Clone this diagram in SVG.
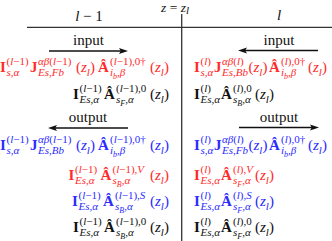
<svg xmlns="http://www.w3.org/2000/svg" width="332" height="241" viewBox="0 0 332 241" font-family="'Liberation Serif', 'Times New Roman', serif">
<style>
text{font-family:"Liberation Serif","Times New Roman","DejaVu Serif",serif;font-size:15px;fill:#111}
.b{font-weight:bold}
.i{font-style:italic}
.s{font-size:11px}
.ss{font-size:8px}
.hd{font-size:13.5px}
.red text{fill:#ff2b2b}
.blue text{fill:#2b2bff}
.ln{stroke:#333;stroke-width:1.3;fill:none}
.ar{stroke:#111;stroke-width:1.3;fill:none;marker-end:url(#ah)}
</style>
<defs>
<marker id="ah" markerUnits="userSpaceOnUse" markerWidth="10" markerHeight="7" refX="5" refY="3.5" orient="auto">
<path d="M0,0.5 L9,3.5 L0,6.5 L1.8,3.5 Z" fill="#111"/>
</marker>
</defs>
<g id="connectors">
<line class="ln" x1="27" y1="27.3" x2="332" y2="27.3"/>
<line class="ln" x1="181.7" y1="14" x2="181.7" y2="241"/>
<line class="ar" x1="49" y1="51" x2="124" y2="51"/>
<line class="ar" x1="318" y1="50.5" x2="242" y2="50.5"/>
<line class="ar" x1="128" y1="128" x2="52" y2="128"/>
<line class="ar" x1="239" y1="127.5" x2="315" y2="127.5"/>
</g>
<g id="header">
<text class="hd" x="161" y="12"><tspan class="i">z</tspan> = <tspan class="i">z</tspan><tspan class="s i" y="14">l</tspan></text>
<text x="89" y="21" text-anchor="middle"><tspan class="i">l</tspan> − 1</text>
<text x="279" y="20" text-anchor="middle" class="i">l</text>
</g>
<g id="labels">
<text x="88.5" y="45" text-anchor="middle">input</text>
<text x="279" y="45" text-anchor="middle">input</text>
<text x="88" y="122" text-anchor="middle">output</text>
<text x="279" y="122" text-anchor="middle">output</text>
</g>
<g id="row1-left" class="red"><text>
<tspan class="b" x="0" y="72">I</tspan><tspan class="s" x="6.5" y="65">(<tspan class="i">l</tspan>−1)</tspan><tspan class="s i" x="6.5" y="76">s,α</tspan>
<tspan class="b" x="30" y="72">J</tspan><tspan class="s" x="38" y="65"><tspan class="i">αβ</tspan>(<tspan class="i">l</tspan>−1)</tspan><tspan class="s i" x="38" y="76">Es,Fb</tspan>
<tspan x="76" y="72">(</tspan><tspan class="i">z</tspan><tspan class="s i" y="75.5">l</tspan><tspan y="72">)</tspan>
<tspan class="b" x="98" y="72">Â</tspan><tspan class="s" x="110" y="65">(<tspan class="i">l</tspan>−1),0†</tspan><tspan class="s i" x="110" y="76">i</tspan><tspan class="ss i" y="78.5">b</tspan><tspan class="s i" y="76">,β</tspan>
<tspan x="150" y="72">(</tspan><tspan class="i">z</tspan><tspan class="s i" y="75.5">l</tspan><tspan y="72">)</tspan>
</text></g>
<g id="row1-right" class="red"><text>
<tspan class="b" x="194" y="72">I</tspan><tspan class="s" x="200.5" y="65">(<tspan class="i">l</tspan>)</tspan><tspan class="s i" x="200.5" y="76">s,α</tspan>
<tspan class="b" x="214" y="72">J</tspan><tspan class="s" x="222" y="65"><tspan class="i">αβ</tspan>(<tspan class="i">l</tspan>)</tspan><tspan class="s i" x="222" y="76">Es,Bb</tspan>
<tspan x="248.5" y="72">(</tspan><tspan class="i">z</tspan><tspan class="s i" y="75.5">l</tspan><tspan y="72">)</tspan>
<tspan class="b" x="269" y="72">Â</tspan><tspan class="s" x="281" y="65">(<tspan class="i">l</tspan>),0†</tspan><tspan class="s i" x="281" y="76">i</tspan><tspan class="ss i" y="78.5">b</tspan><tspan class="s i" y="76">,β</tspan>
<tspan x="308" y="72">(</tspan><tspan class="i">z</tspan><tspan class="s i" y="75.5">l</tspan><tspan y="72">)</tspan>
</text></g>
<g id="row2-left"><text>
<tspan class="b" x="73" y="99">I</tspan><tspan class="s" x="79.5" y="92">(<tspan class="i">l</tspan>−1)</tspan><tspan class="s i" x="79.5" y="103">Es,α</tspan>
<tspan class="b" x="104" y="99">Â</tspan><tspan class="s" x="116" y="92">(<tspan class="i">l</tspan>−1),0</tspan><tspan class="s i" x="116" y="103">s</tspan><tspan class="ss i" y="105.5">F</tspan><tspan class="s i" y="103">,α</tspan>
<tspan x="150" y="99">(</tspan><tspan class="i">z</tspan><tspan class="s i" y="102.5">l</tspan><tspan y="99">)</tspan>
</text></g>
<g id="row2-right"><text>
<tspan class="b" x="194" y="99">I</tspan><tspan class="s" x="200.5" y="92">(<tspan class="i">l</tspan>)</tspan><tspan class="s i" x="200.5" y="103">Es,α</tspan>
<tspan class="b" x="221" y="99">Â</tspan><tspan class="s" x="233" y="92">(<tspan class="i">l</tspan>),0</tspan><tspan class="s i" x="233" y="103">s</tspan><tspan class="ss i" y="105.5">B</tspan><tspan class="s i" y="103">,α</tspan>
<tspan x="255" y="99">(</tspan><tspan class="i">z</tspan><tspan class="s i" y="102.5">l</tspan><tspan y="99">)</tspan>
</text></g>
<g id="row4-left" class="blue"><text>
<tspan class="b" x="0" y="150">I</tspan><tspan class="s" x="6.5" y="143">(<tspan class="i">l</tspan>−1)</tspan><tspan class="s i" x="6.5" y="154">s,α</tspan>
<tspan class="b" x="30" y="150">J</tspan><tspan class="s" x="38" y="143"><tspan class="i">αβ</tspan>(<tspan class="i">l</tspan>−1)</tspan><tspan class="s i" x="38" y="154">Es,Bb</tspan>
<tspan x="76" y="150">(</tspan><tspan class="i">z</tspan><tspan class="s i" y="153.5">l</tspan><tspan y="150">)</tspan>
<tspan class="b" x="98" y="150">Â</tspan><tspan class="s" x="110" y="143">(<tspan class="i">l</tspan>−1),0†</tspan><tspan class="s i" x="110" y="154">i</tspan><tspan class="ss i" y="156.5">b</tspan><tspan class="s i" y="154">,β</tspan>
<tspan x="150" y="150">(</tspan><tspan class="i">z</tspan><tspan class="s i" y="153.5">l</tspan><tspan y="150">)</tspan>
</text></g>
<g id="row4-right" class="blue"><text>
<tspan class="b" x="194" y="150">I</tspan><tspan class="s" x="200.5" y="143">(<tspan class="i">l</tspan>)</tspan><tspan class="s i" x="200.5" y="154">s,α</tspan>
<tspan class="b" x="214" y="150">J</tspan><tspan class="s" x="222" y="143"><tspan class="i">αβ</tspan>(<tspan class="i">l</tspan>)</tspan><tspan class="s i" x="222" y="154">Es,Fb</tspan>
<tspan x="248.5" y="150">(</tspan><tspan class="i">z</tspan><tspan class="s i" y="153.5">l</tspan><tspan y="150">)</tspan>
<tspan class="b" x="269" y="150">Â</tspan><tspan class="s" x="281" y="143">(<tspan class="i">l</tspan>),0†</tspan><tspan class="s i" x="281" y="154">i</tspan><tspan class="ss i" y="156.5">b</tspan><tspan class="s i" y="154">,β</tspan>
<tspan x="308" y="150">(</tspan><tspan class="i">z</tspan><tspan class="s i" y="153.5">l</tspan><tspan y="150">)</tspan>
</text></g>
<g id="row5-left" class="red"><text>
<tspan class="b" x="68.5" y="180">I</tspan><tspan class="s" x="75" y="173">(<tspan class="i">l</tspan>−1)</tspan><tspan class="s i" x="75" y="184">Es,α</tspan>
<tspan class="b" x="100.5" y="180">Â</tspan><tspan class="s" x="112.5" y="173">(<tspan class="i">l</tspan>−1),<tspan class="i">V</tspan></tspan><tspan class="s i" x="112.5" y="184">s</tspan><tspan class="ss i" y="186.5">B</tspan><tspan class="s i" y="184">,α</tspan>
<tspan x="150" y="180">(</tspan><tspan class="i">z</tspan><tspan class="s i" y="183.5">l</tspan><tspan y="180">)</tspan>
</text></g>
<g id="row5-right" class="red"><text>
<tspan class="b" x="194" y="180">I</tspan><tspan class="s" x="200.5" y="173">(<tspan class="i">l</tspan>)</tspan><tspan class="s i" x="200.5" y="184">Es,α</tspan>
<tspan class="b" x="221" y="180">Â</tspan><tspan class="s" x="233" y="173">(<tspan class="i">l</tspan>),<tspan class="i">V</tspan></tspan><tspan class="s i" x="233" y="184">s</tspan><tspan class="ss i" y="186.5">F</tspan><tspan class="s i" y="184">,α</tspan>
<tspan x="255" y="180">(</tspan><tspan class="i">z</tspan><tspan class="s i" y="183.5">l</tspan><tspan y="180">)</tspan>
</text></g>
<g id="row6-left" class="blue"><text>
<tspan class="b" x="72" y="206">I</tspan><tspan class="s" x="78.5" y="199">(<tspan class="i">l</tspan>−1)</tspan><tspan class="s i" x="78.5" y="210">Es,α</tspan>
<tspan class="b" x="103" y="206">Â</tspan><tspan class="s" x="115" y="199">(<tspan class="i">l</tspan>−1),<tspan class="i">S</tspan></tspan><tspan class="s i" x="115" y="210">s</tspan><tspan class="ss i" y="212.5">B</tspan><tspan class="s i" y="210">,α</tspan>
<tspan x="150" y="206">(</tspan><tspan class="i">z</tspan><tspan class="s i" y="209.5">l</tspan><tspan y="206">)</tspan>
</text></g>
<g id="row6-right" class="blue"><text>
<tspan class="b" x="194" y="206">I</tspan><tspan class="s" x="200.5" y="199">(<tspan class="i">l</tspan>)</tspan><tspan class="s i" x="200.5" y="210">Es,α</tspan>
<tspan class="b" x="221" y="206">Â</tspan><tspan class="s" x="233" y="199">(<tspan class="i">l</tspan>),<tspan class="i">S</tspan></tspan><tspan class="s i" x="233" y="210">s</tspan><tspan class="ss i" y="212.5">F</tspan><tspan class="s i" y="210">,α</tspan>
<tspan x="255" y="206">(</tspan><tspan class="i">z</tspan><tspan class="s i" y="209.5">l</tspan><tspan y="206">)</tspan>
</text></g>
<g id="row7-left"><text>
<tspan class="b" x="73" y="232">I</tspan><tspan class="s" x="79.5" y="225">(<tspan class="i">l</tspan>−1)</tspan><tspan class="s i" x="79.5" y="236">Es,α</tspan>
<tspan class="b" x="104" y="232">Â</tspan><tspan class="s" x="116" y="225">(<tspan class="i">l</tspan>−1),0</tspan><tspan class="s i" x="116" y="236">s</tspan><tspan class="ss i" y="238.5">B</tspan><tspan class="s i" y="236">,α</tspan>
<tspan x="150" y="232">(</tspan><tspan class="i">z</tspan><tspan class="s i" y="235.5">l</tspan><tspan y="232">)</tspan>
</text></g>
<g id="row7-right"><text>
<tspan class="b" x="194" y="232">I</tspan><tspan class="s" x="200.5" y="225">(<tspan class="i">l</tspan>)</tspan><tspan class="s i" x="200.5" y="236">Es,α</tspan>
<tspan class="b" x="221" y="232">Â</tspan><tspan class="s" x="233" y="225">(<tspan class="i">l</tspan>),0</tspan><tspan class="s i" x="233" y="236">s</tspan><tspan class="ss i" y="238.5">F</tspan><tspan class="s i" y="236">,α</tspan>
<tspan x="255" y="232">(</tspan><tspan class="i">z</tspan><tspan class="s i" y="235.5">l</tspan><tspan y="232">)</tspan>
</text></g>
</svg>
